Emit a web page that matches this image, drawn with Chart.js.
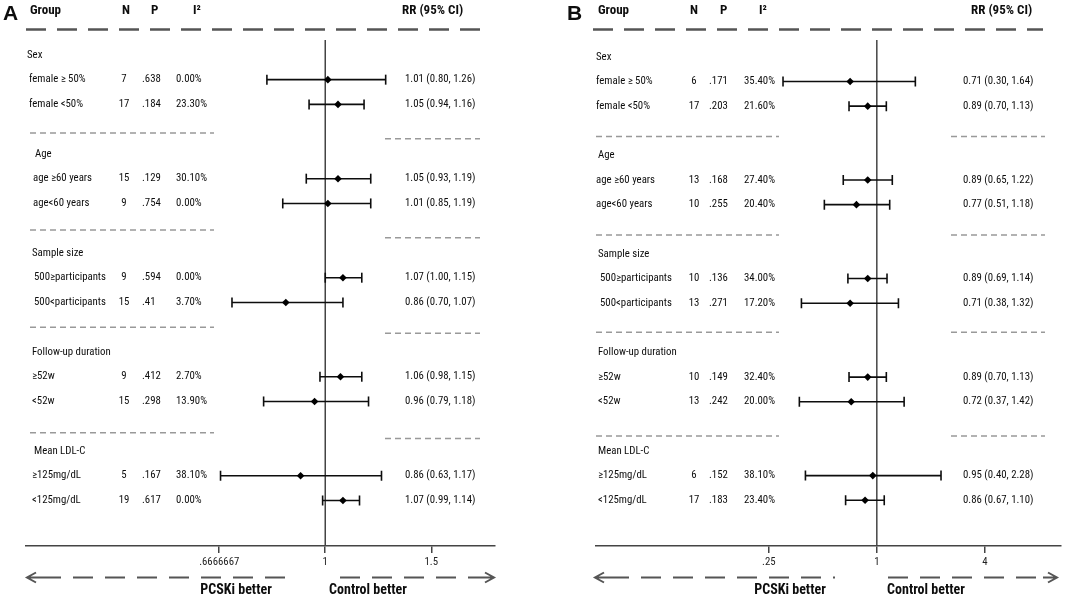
<!DOCTYPE html>
<html>
<head>
<meta charset="utf-8">
<script src="https://cdn.jsdelivr.net/npm/chart.js@4.4.1/dist/chart.umd.min.js"></script>
<style>
  html, body { margin: 0; padding: 0; background: #fff; }
  #wrap { position: relative; width: 1067px; height: 596px; overflow: hidden; }
  .panel { position: absolute; top: 0; height: 596px; }
  #pa { left: 0; width: 533px; }
  #pb { left: 533px; width: 534px; }
</style>
</head>
<body>
<div id="wrap">
  <div class="panel" id="pa"><canvas id="chartA" width="533" height="596"></canvas></div>
  <div class="panel" id="pb"><canvas id="chartB" width="534" height="596"></canvas></div>
</div>
<script>
// ---- data ----
const groups = ["Sex", "Age", "Sample size", "Follow-up duration", "Mean LDL-C"];
const subgroups = ["female \u2265 50%", "female <50%", "age \u226560 years", "age<60 years",
  "500\u2265participants", "500<participants", "\u226552w", "<52w", "\u2265125mg/dL", "<125mg/dL"];

// panel A
const nA = [7, 17, 15, 9, 9, 15, 9, 15, 5, 19];
const pA = [".638", ".184", ".129", ".754", ".594", ".41", ".412", ".298", ".167", ".617"];
const i2A = ["0.00%", "23.30%", "30.10%", "0.00%", "0.00%", "3.70%", "2.70%", "13.90%", "38.10%", "0.00%"];
const rrTextA = ["1.01 (0.80, 1.26)", "1.05 (0.94, 1.16)", "1.05 (0.93, 1.19)", "1.01 (0.85, 1.19)",
  "1.07 (1.00, 1.15)", "0.86 (0.70, 1.07)", "1.06 (0.98, 1.15)", "0.96 (0.79, 1.18)",
  "0.86 (0.63, 1.17)", "1.07 (0.99, 1.14)"];
// plotted marks (the >=125mg/dL mark sits right of its printed value in the figure)
const rrA = [1.01, 1.05, 1.05, 1.01, 1.07, 0.86, 1.06, 0.96, 0.91, 1.07];
const loA = [0.80, 0.94, 0.93, 0.85, 1.00, 0.70, 0.98, 0.79, 0.67, 0.99];
const hiA = [1.26, 1.16, 1.19, 1.19, 1.15, 1.07, 1.15, 1.18, 1.24, 1.14];
const ticksA = [2 / 3, 1, 1.5];
const tickLabelsA = [".6666667", "1", "1.5"];

// panel B
const nB = [6, 17, 13, 10, 10, 13, 10, 13, 6, 17];
const pB = [".171", ".203", ".168", ".255", ".136", ".271", ".149", ".242", ".152", ".183"];
const i2B = ["35.40%", "21.60%", "27.40%", "20.40%", "34.00%", "17.20%", "32.40%", "20.00%", "38.10%", "23.40%"];
const rrTextB = ["0.71 (0.30, 1.64)", "0.89 (0.70, 1.13)", "0.89 (0.65, 1.22)", "0.77 (0.51, 1.18)",
  "0.89 (0.69, 1.14)", "0.71 (0.38, 1.32)", "0.89 (0.70, 1.13)", "0.72 (0.37, 1.42)",
  "0.95 (0.40, 2.28)", "0.86 (0.67, 1.10)"];
const rrB = [0.71, 0.89, 0.89, 0.77, 0.89, 0.71, 0.89, 0.72, 0.95, 0.86];
const loB = [0.30, 0.70, 0.65, 0.51, 0.69, 0.38, 0.70, 0.37, 0.40, 0.67];
const hiB = [1.64, 1.13, 1.22, 1.18, 1.14, 1.32, 1.13, 1.42, 2.28, 1.10];
const ticksB = [0.25, 1, 4];
const tickLabelsB = [".25", "1", "4"];

// ---- layout ----
const FAM = '"Roboto Condensed", Roboto, sans-serif';
const REG = '10.8px ' + FAM;
const BOLD = 'bold 13px ' + FAM;
const INK = '#0d0d0d';

const layoutA = {
  letter: "A", letterX: 3,
  xMin: 0.3184, xMax: 1.914, yMin: -0.602, yMax: 19.84,
  pad: { left: 26, right: 38, top: 40, bottom: 24 },
  head: { group: 30, n: 122, p: 151, i2: 193, rr: 402 },
  groupX: [27, 35, 32, 32, 34],
  subX: [29, 29, 33, 33, 34, 34, 32, 32, 32, 32],
  col: { n: 124, p: 142, i2: 176, rr: 405 },
  headLine: [26, 484],
  sepL: [30, 214], sepR: [385, 480],
  sepRowsL: [3.15, 7.07, 11.0, 15.26], sepRowsR: [3.39, 7.39, 11.24, 15.5],
  arrowL: [27, 292], arrowR: [340, 494], labelL: 236, labelR: 368
};

const layoutB = {
  letter: "B", letterX: 34,
  xMin: 0.0272, xMax: 10.555, yMin: -0.686, yMax: 19.86,
  pad: { left: 63, right: 1, top: 40, bottom: 24 },
  head: { group: 65, n: 157, p: 187, i2: 226, rr: 438 },
  groupX: [63, 65, 65, 65, 65],
  subX: [63, 63, 63, 63, 67, 67, 65, 65, 65, 65],
  col: { n: 161, p: 176, i2: 211, rr: 430 },
  headLine: [60, 510],
  sepL: [63, 246], sepR: [418, 512],
  sepRowsL: [3.23, 7.23, 11.18, 15.39], sepRowsR: [3.23, 7.23, 11.18, 15.39],
  arrowL: [62, 302], arrowR: [355, 524], labelL: 257, labelR: 393
};

const rowOf = i => 4 * Math.floor(i / 2) + 1 + (i % 2);

function dashed(ctx, x0, x1, y, dash, color, width) {
  ctx.save();
  ctx.strokeStyle = color;
  ctx.lineWidth = width;
  ctx.setLineDash(dash);
  ctx.beginPath();
  ctx.moveTo(x0, y);
  ctx.lineTo(x1, y);
  ctx.stroke();
  ctx.restore();
}

function chevron(ctx, x, y, dir) {
  ctx.save();
  ctx.strokeStyle = '#555';
  ctx.lineWidth = 2;
  ctx.beginPath();
  ctx.moveTo(x + dir * 9, y - 5);
  ctx.lineTo(x, y);
  ctx.lineTo(x + dir * 9, y + 5);
  ctx.moveTo(x, y);
  ctx.lineTo(x + dir * 14, y);
  ctx.stroke();
  ctx.restore();
}

function tablePlugin(L, n, p, i2, rrText) {
  return {
    id: 'table' + L.letter,
    afterDraw(chart) {
      const ctx = chart.ctx;
      const y = chart.scales.y;
      ctx.save();
      ctx.fillStyle = INK;
      ctx.textBaseline = 'middle';
      ctx.textAlign = 'left';

      ctx.font = 'bold 21px "Liberation Sans", Arial, sans-serif';
      ctx.fillText(L.letter, L.letterX, 14);

      ctx.font = BOLD;
      ctx.fillText("Group", L.head.group, 11);
      ctx.fillText("N", L.head.n, 11);
      ctx.fillText("P", L.head.p, 11);
      ctx.fillText("I\u00b2", L.head.i2, 11);
      ctx.fillText("RR (95% CI)", L.head.rr, 11);
      dashed(ctx, L.headLine[0], L.headLine[1], 29.5, [20, 11], '#555', 2.5);

      ctx.font = REG;
      groups.forEach((g, k) => ctx.fillText(g, L.groupX[k], y.getPixelForValue(4 * k)));
      subgroups.forEach((s, i) => {
        const py = y.getPixelForValue(rowOf(i));
        ctx.textAlign = 'left';
        ctx.fillText(s, L.subX[i], py);
        ctx.textAlign = 'center';
        ctx.fillText(String(n[i]), L.col.n, py);
        ctx.textAlign = 'left';
        ctx.fillText(p[i], L.col.p, py);
        ctx.fillText(i2[i], L.col.i2, py);
        ctx.fillText(rrText[i], L.col.rr, py);
      });

      L.sepRowsL.forEach(r => dashed(ctx, L.sepL[0], L.sepL[1], y.getPixelForValue(r), [6, 4], '#999', 1.5));
      L.sepRowsR.forEach(r => dashed(ctx, L.sepR[0], L.sepR[1], y.getPixelForValue(r), [6, 4], '#999', 1.5));

      // direction arrows
      const ay = 577.5;
      dashed(ctx, L.arrowL[0] + 14, L.arrowL[1], ay, [20, 12], '#555', 2);
      chevron(ctx, L.arrowL[0], ay, 1);
      dashed(ctx, L.arrowR[0], L.arrowR[1] - 14, ay, [20, 12], '#555', 2);
      chevron(ctx, L.arrowR[1], ay, -1);

      ctx.font = 'bold 14px ' + FAM;
      ctx.textAlign = 'center';
      ctx.fillStyle = INK;
      ctx.fillText("PCSKi better", L.labelL, 590);
      ctx.fillText("Control better", L.labelR, 590);
      ctx.restore();
    }
  };
}

function buildChart(id, L, n, p, i2, rrText, rr, lo, hi, tickVals, tickLabels) {
  const ciSets = subgroups.map((s, i) => ({
    label: s,
    data: [{ x: lo[i], y: rowOf(i) }, { x: hi[i], y: rowOf(i) }],
    showLine: true,
    borderColor: INK,
    borderWidth: 1.6,
    pointStyle: 'line',
    rotation: 90,
    pointRadius: 5,
    pointBorderWidth: 1.6,
    pointBorderColor: INK,
    order: 2
  }));

  const estSet = {
    label: 'RR',
    data: rr.map((v, i) => ({ x: v, y: rowOf(i) })),
    pointStyle: 'rectRot',
    pointRadius: 3.8,
    backgroundColor: '#000',
    borderColor: '#000',
    borderWidth: 0,
    order: 1
  };

  const refSet = {
    label: 'null',
    data: [{ x: 1, y: L.yMin }, { x: 1, y: L.yMax }],
    showLine: true,
    borderColor: '#444',
    borderWidth: 1.5,
    pointRadius: 0,
    order: 3
  };

  return new Chart(document.getElementById(id), {
    type: 'scatter',
    data: { datasets: [refSet, ...ciSets, estSet] },
    options: {
      responsive: false,
      animation: false,
      layout: { padding: L.pad },
      plugins: { legend: { display: false }, tooltip: { enabled: false } },
      scales: {
        x: {
          type: 'logarithmic',
          bounds: 'data',
          min: L.xMin,
          max: L.xMax,
          afterBuildTicks: scale => { scale.ticks = tickVals.map(v => ({ value: v })); },
          ticks: {
            autoSkip: false,
            maxRotation: 0,
            padding: 3,
            color: '#222',
            font: { family: FAM, size: 10.8 },
            callback: (v, i) => tickLabels[i]
          },
          grid: { drawOnChartArea: false, drawTicks: true, tickLength: 7, color: '#444', lineWidth: 1.5 },
          border: { display: true, color: '#444', width: 1.5 }
        },
        y: { type: 'linear', reverse: true, min: L.yMin, max: L.yMax, display: false }
      }
    },
    plugins: [tablePlugin(L, n, p, i2, rrText)]
  });
}

buildChart('chartA', layoutA, nA, pA, i2A, rrTextA, rrA, loA, hiA, ticksA, tickLabelsA);
buildChart('chartB', layoutB, nB, pB, i2B, rrTextB, rrB, loB, hiB, ticksB, tickLabelsB);
</script>
</body>
</html>
